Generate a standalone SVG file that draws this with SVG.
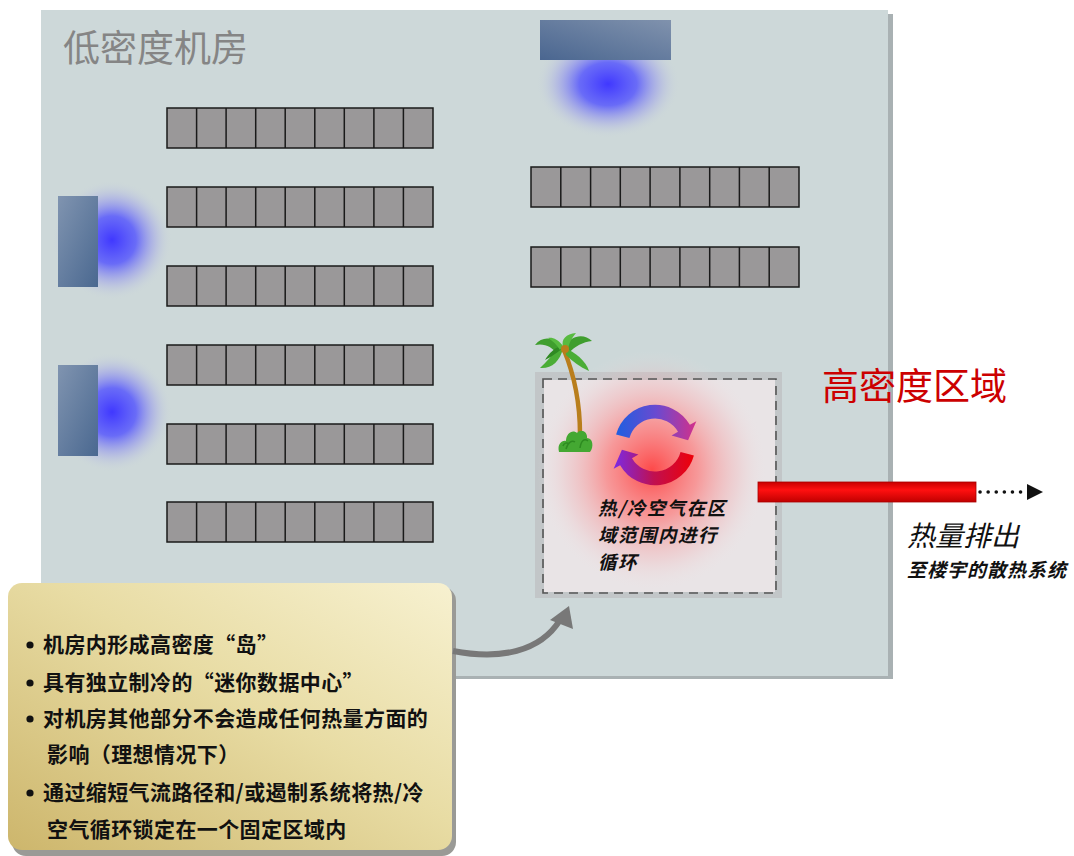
<svg xmlns="http://www.w3.org/2000/svg" width="1074" height="856" viewBox="0 0 1074 856">
  <style>
    .cjk { font-family: "Noto Sans CJK SC", "Liberation Sans", sans-serif; }
    .rack { fill: #9a9899; stroke: #1a1a1a; stroke-width: 1.5; }
    .bullet { font-size: 21px; font-weight: bold; fill: #111; letter-spacing: 0.4px; }
    .dot { fill: #111; }
    .zone-note { font-size: 18.5px; font-weight: bold; font-style: italic; fill: #111; letter-spacing: 1.5px; }
  </style>
  <defs>
    <radialGradient id="coolGlow" cx="0.5" cy="0.5" r="0.5">
      <stop offset="0" stop-color="#4038ff" stop-opacity="1"/>
      <stop offset="0.4" stop-color="#5050ff" stop-opacity="0.8"/>
      <stop offset="0.72" stop-color="#8e8ef0" stop-opacity="0.35"/>
      <stop offset="1" stop-color="#cdd8d9" stop-opacity="0"/>
    </radialGradient>
    <radialGradient id="heatGlow" cx="0.5" cy="0.5" r="0.5">
      <stop offset="0" stop-color="#ff3c3c" stop-opacity="0.92"/>
      <stop offset="0.4" stop-color="#ff6a6a" stop-opacity="0.62"/>
      <stop offset="0.75" stop-color="#f4a8ac" stop-opacity="0.28"/>
      <stop offset="1" stop-color="#f0e4e6" stop-opacity="0"/>
    </radialGradient>
    <linearGradient id="acTop" x1="0" y1="1" x2="1" y2="0">
      <stop offset="0" stop-color="#4a6690"/>
      <stop offset="1" stop-color="#8092ad"/>
    </linearGradient>
    <linearGradient id="acSide" x1="0" y1="0" x2="1" y2="1">
      <stop offset="0" stop-color="#8094b0"/>
      <stop offset="1" stop-color="#4a6890"/>
    </linearGradient>
    <linearGradient id="arrowTop" x1="0" y1="0" x2="1" y2="0">
      <stop offset="0" stop-color="#1f5fe0"/>
      <stop offset="0.5" stop-color="#6a4ad0"/>
      <stop offset="1" stop-color="#d3308a"/>
    </linearGradient>
    <linearGradient id="arrowBottom" x1="1" y1="0" x2="0" y2="0">
      <stop offset="0" stop-color="#ee0008"/>
      <stop offset="0.5" stop-color="#c01050"/>
      <stop offset="1" stop-color="#7a2ae6"/>
    </linearGradient>
    <linearGradient id="pipe" x1="0" y1="0" x2="0" y2="1">
      <stop offset="0" stop-color="#c80000"/>
      <stop offset="0.4" stop-color="#ff1010"/>
      <stop offset="1" stop-color="#c00000"/>
    </linearGradient>
    <linearGradient id="note" x1="0" y1="1" x2="1" y2="0">
      <stop offset="0" stop-color="#cdb66c"/>
      <stop offset="0.55" stop-color="#e8dca4"/>
      <stop offset="1" stop-color="#f7f1d0"/>
    </linearGradient>
  </defs>

  <rect width="1074" height="856" fill="#ffffff"/>

  <!-- low-density room floor -->
  <g id="room">
    <rect x="45" y="14" width="848" height="665" fill="#a9b1b3"/>
    <rect x="41" y="10" width="847" height="666" fill="#cdd8d9"/>
    <text x="63" y="62" class="cjk" font-size="37" fill="#858585">低密度机房</text>
  </g>

  <!-- perimeter cooling units with their cold-air spread -->
  <g id="ac-top">
    <ellipse cx="608" cy="84" rx="72" ry="54" fill="url(#coolGlow)"/>
    <rect x="540" y="20" width="131" height="40" fill="url(#acTop)"/>
  </g>
  <g id="ac-left-1">
    <ellipse cx="112" cy="240" rx="60" ry="60" fill="url(#coolGlow)"/>
    <rect x="58" y="196" width="40" height="91" fill="url(#acSide)"/>
  </g>
  <g id="ac-left-2">
    <ellipse cx="112" cy="412" rx="60" ry="60" fill="url(#coolGlow)"/>
    <rect x="58" y="365" width="40" height="91" fill="url(#acSide)"/>
  </g>

  <!-- rack rows: nine cabinets each -->
  <g id="racks-left">
    <g id="row-l1" transform="translate(167,108)">
      <rect width="266" height="40" class="rack"/>
      <path d="M29.6 0V40M59.1 0V40M88.7 0V40M118.2 0V40M147.8 0V40M177.3 0V40M206.9 0V40M236.4 0V40" stroke="#1a1a1a" stroke-width="1.5"/>
    </g>
    <g id="row-l2" transform="translate(167,187)">
      <rect width="266" height="40" class="rack"/>
      <path d="M29.6 0V40M59.1 0V40M88.7 0V40M118.2 0V40M147.8 0V40M177.3 0V40M206.9 0V40M236.4 0V40" stroke="#1a1a1a" stroke-width="1.5"/>
    </g>
    <g id="row-l3" transform="translate(167,266)">
      <rect width="266" height="40" class="rack"/>
      <path d="M29.6 0V40M59.1 0V40M88.7 0V40M118.2 0V40M147.8 0V40M177.3 0V40M206.9 0V40M236.4 0V40" stroke="#1a1a1a" stroke-width="1.5"/>
    </g>
    <g id="row-l4" transform="translate(167,345)">
      <rect width="266" height="40" class="rack"/>
      <path d="M29.6 0V40M59.1 0V40M88.7 0V40M118.2 0V40M147.8 0V40M177.3 0V40M206.9 0V40M236.4 0V40" stroke="#1a1a1a" stroke-width="1.5"/>
    </g>
    <g id="row-l5" transform="translate(167,424)">
      <rect width="266" height="40" class="rack"/>
      <path d="M29.6 0V40M59.1 0V40M88.7 0V40M118.2 0V40M147.8 0V40M177.3 0V40M206.9 0V40M236.4 0V40" stroke="#1a1a1a" stroke-width="1.5"/>
    </g>
    <g id="row-l6" transform="translate(167,502)">
      <rect width="266" height="40" class="rack"/>
      <path d="M29.6 0V40M59.1 0V40M88.7 0V40M118.2 0V40M147.8 0V40M177.3 0V40M206.9 0V40M236.4 0V40" stroke="#1a1a1a" stroke-width="1.5"/>
    </g>
  </g>
  <g id="racks-right">
    <g id="row-r1" transform="translate(531,167)">
      <rect width="268" height="40" class="rack"/>
      <path d="M29.8 0V40M59.6 0V40M89.3 0V40M119.1 0V40M148.9 0V40M178.7 0V40M208.4 0V40M238.2 0V40" stroke="#1a1a1a" stroke-width="1.5"/>
    </g>
    <g id="row-r2" transform="translate(531,247)">
      <rect width="268" height="40" class="rack"/>
      <path d="M29.8 0V40M59.6 0V40M89.3 0V40M119.1 0V40M148.9 0V40M178.7 0V40M208.4 0V40M238.2 0V40" stroke="#1a1a1a" stroke-width="1.5"/>
    </g>
  </g>

  <!-- high-density island -->
  <g id="hd-zone">
    <rect x="535" y="372" width="247" height="226" fill="#c2c6c8"/>
    <rect x="544" y="380" width="231" height="212" fill="#e9e4e6"/>
    <ellipse cx="652" cy="470" rx="115" ry="120" fill="url(#heatGlow)"/>
    <rect x="543" y="379" width="233" height="214" fill="none" stroke="#555" stroke-width="1.6" stroke-dasharray="9 6"/>
    <!-- hot/cold recirculation symbol -->
    <g id="recirc" transform="translate(655,445) scale(1.06) translate(-655,-445)">
      <path d="M618.3 435.2A38 38 0 0 1 687.9 426L694 422.5L686.2 440.6L670.6 436L676.7 432.5A25 25 0 0 0 630.9 438.5Z" fill="url(#arrowTop)"/>
      <path d="M691.7 454.8A38 38 0 0 1 622.1 464L616 467.5L623.8 449.4L639.4 454L633.3 457.5A25 25 0 0 0 679.1 451.5Z" fill="url(#arrowBottom)"/>
    </g>
    <text class="cjk zone-note" x="598" y="515">热/冷空气在区</text>
    <text class="cjk zone-note" x="598" y="542">域范围内进行</text>
    <text class="cjk zone-note" x="598" y="569">循环</text>
  </g>

  <!-- palm tree marking the island -->
  <g id="palm">
    <path d="M564 350C573 372 580 398 580 434" fill="none" stroke="#b97e1c" stroke-width="4.5" stroke-linecap="round"/>
    <path d="M563 348C555 337 543 335 535 345C545 343 552 347 557 354Z" fill="#3f9e2e"/>
    <path d="M563 348C560 362 551 369 540 368C547 361 553 355 557 347Z" fill="#4aad36"/>
    <path d="M564 347C571 335 584 333 592 341C583 342 575 346 569 353Z" fill="#3f9e2e"/>
    <path d="M565 348C575 352 586 361 589 371C580 367 572 361 566 355Z" fill="#4aad36"/>
    <path d="M563 347C561 339 566 334 576 333C571 339 569 343 568 350Z" fill="#57bb40"/>
    <path d="M562 349C556 353 550 358 545 360C549 353 555 348 560 346Z" fill="#2f8a22"/>
    <path d="M563 346C558 339 552 337 548 338C553 341 557 345 560 350Z" fill="#57bb40"/>
    <ellipse cx="565" cy="349" rx="4" ry="4" fill="#b97e1c"/>
    <path d="M559 452C557 444 562 440 566 441C566 433 573 429 577 433C581 428 588 432 587 438C593 438 594 447 590 452Z" fill="#44a832"/>
    <path d="M566 449C568 442 572 440 575 442M580 448C581 441 584 438 588 441M563 446C564 443 567 442 569 444" fill="none" stroke="#2d8a20" stroke-width="1.5"/>
  </g>

  <text id="hd-title" x="822" y="400" class="cjk" font-size="37" fill="#cc0000">高密度区域</text>

  <!-- heat exhaust pipe to building heat rejection -->
  <g id="exhaust">
    <rect x="758" y="482" width="218" height="20" fill="url(#pipe)" stroke="#a80000" stroke-width="0.8"/>
    <text x="907" y="546" class="cjk" font-size="28" font-style="italic" fill="#111">热量排出</text>
    <text x="907" y="577" class="cjk" font-size="19" font-style="italic" font-weight="bold" fill="#111" letter-spacing="1">至楼宇的散热系统</text>
  </g>

  <!-- callout box -->
  <g id="callout">
    <rect x="12" y="587" width="444" height="269" rx="14" fill="#9a9a96"/>
    <rect x="8" y="583" width="444" height="267" rx="14" fill="url(#note)"/>
    <circle class="dot" cx="30" cy="645" r="3.6"/>
    <circle class="dot" cx="30" cy="683" r="3.6"/>
    <circle class="dot" cx="30" cy="719" r="3.6"/>
    <circle class="dot" cx="30" cy="793" r="3.6"/>
    <g class="cjk">
      <text class="bullet" x="43" y="652">机房内形成高密度“岛”</text>
      <text class="bullet" x="43" y="690">具有独立制冷的“迷你数据中心”</text>
      <text class="bullet" x="43" y="726">对机房其他部分不会造成任何热量方面的</text>
      <text class="bullet" x="47" y="762">影响（理想情况下）</text>
      <text class="bullet" x="43" y="800">通过缩短气流路径和/或遏制系统将热/冷</text>
      <text class="bullet" x="47" y="837">空气循环锁定在一个固定区域内</text>
    </g>
  </g>

  <!-- connectors -->
  <g id="connectors">
    <path d="M453 651C500 660 540 652 560 620" fill="none" stroke="#787878" stroke-width="6"/>
    <polygon points="569,606 550,620 573,629" fill="#787878"/>
    <line x1="980" y1="492" x2="1026" y2="492" stroke="#111" stroke-width="3.5" stroke-dasharray="0.1 8" stroke-linecap="round"/>
    <polygon points="1027,484 1043,492 1027,500" fill="#111"/>
  </g>
</svg>
